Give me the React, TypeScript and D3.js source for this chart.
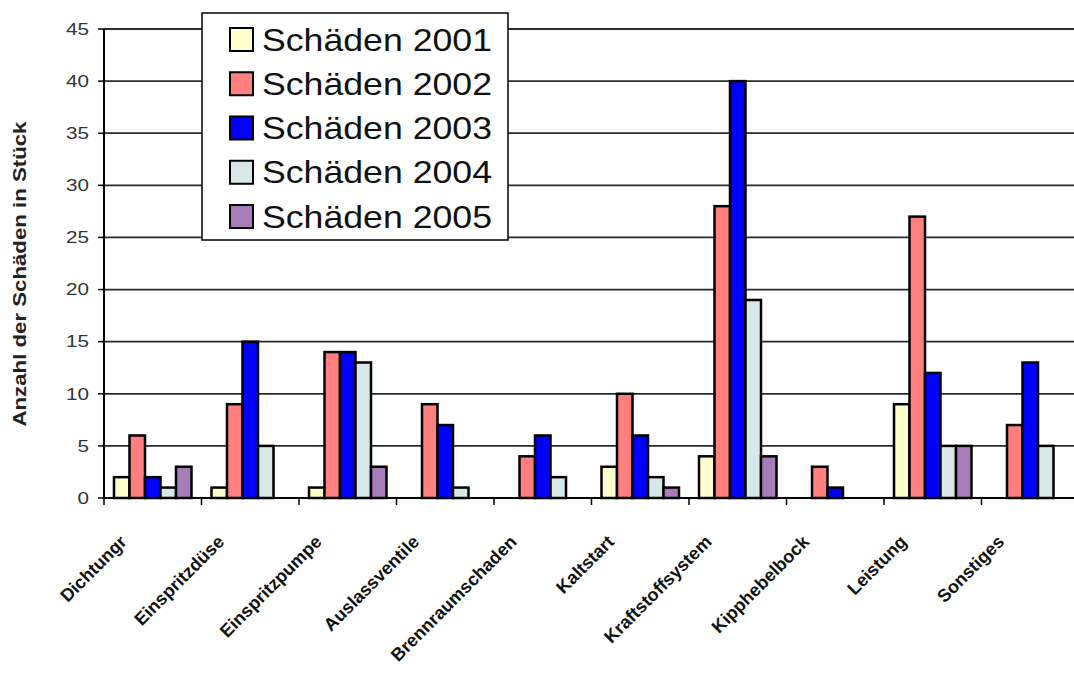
import React, { useRef, useEffect } from "react";
import * as d3 from "d3";

const categories = [
  "Dichtungr",
  "Einspritzdüse",
  "Einspritzpumpe",
  "Auslassventile",
  "Brennraumschaden",
  "Kaltstart",
  "Kraftstoffsystem",
  "Kipphebelbock",
  "Leistung",
  "Sonstiges",
];
const seriesNames = ["Schäden 2001", "Schäden 2002", "Schäden 2003", "Schäden 2004", "Schäden 2005"];
const s2001 = [2, 1, 1, 0, 0, 3, 4, 0, 9, 0];
const s2002 = [6, 9, 14, 9, 4, 10, 28, 3, 27, 7];
const s2003 = [2, 15, 14, 7, 6, 6, 40, 1, 12, 13];
const s2004 = [1, 5, 13, 1, 2, 2, 19, 0, 5, 5];
const s2005 = [3, 0, 3, 0, 0, 1, 4, 0, 5, 0];
const yTicks = [0, 5, 10, 15, 20, 25, 30, 35, 40, 45];
const colors = ["#FFFFCC", "#FF7F7F", "#0000FF", "#D8E8E8", "#A87CB8"];

const FONT = "Arial, 'Liberation Sans', sans-serif";

const App = () => {
  const ref = useRef<SVGSVGElement>(null);

  useEffect(() => {
    if (!ref.current) return;
    const svg = d3.select(ref.current);
    svg.selectAll("*").remove();

    const series = [s2001, s2002, s2003, s2004, s2005];
    const left = 104;
    const x = d3.scaleBand<string>().domain(categories).range([left, 1079]);
    const inner = d3
      .scaleBand<number>()
      .domain(d3.range(series.length))
      .range([10, x.bandwidth() - 10]);
    const y = d3.scaleLinear().domain([0, 45]).range([498, 29]);

    // gridlines
    svg
      .append("g")
      .selectAll("line")
      .data(yTicks.filter((t) => t > 0))
      .join("line")
      .attr("x1", left)
      .attr("x2", 1074)
      .attr("y1", (d) => y(d))
      .attr("y2", (d) => y(d))
      .attr("stroke", "#2a2a2a")
      .attr("stroke-width", 1.8);

    // bars
    series.forEach((vals, si) => {
      svg
        .append("g")
        .selectAll("rect")
        .data(vals.map((v, i) => ({ v, c: categories[i] })).filter((d) => d.v > 0))
        .join("rect")
        .attr("x", (d) => (x(d.c) as number) + (inner(si) as number))
        .attr("y", (d) => y(d.v))
        .attr("width", inner.bandwidth())
        .attr("height", (d) => y(0) - y(d.v))
        .attr("fill", colors[si])
        .attr("stroke", "#000")
        .attr("stroke-width", 2.5);
    });

    // y axis
    const ya = svg.append("g");
    ya.append("line")
      .attr("x1", left)
      .attr("x2", left)
      .attr("y1", y(45))
      .attr("y2", y(0))
      .attr("stroke", "#000")
      .attr("stroke-width", 2);
    ya.selectAll(".tk")
      .data(yTicks)
      .join("line")
      .attr("class", "tk")
      .attr("x1", left - 6)
      .attr("x2", left)
      .attr("y1", (d) => y(d))
      .attr("y2", (d) => y(d))
      .attr("stroke", "#000")
      .attr("stroke-width", 1.5);
    ya.selectAll("text")
      .data(yTicks)
      .join("text")
      .attr("x", 89)
      .attr("y", (d) => y(d))
      .attr("dy", "0.36em")
      .attr("text-anchor", "end")
      .attr("font-family", FONT)
      .attr("font-size", 16)
      .attr("textLength", (d) => String(d).length * 11.5)
      .attr("lengthAdjust", "spacingAndGlyphs")
      .attr("fill", "#333")
      .text((d) => d);

    // x axis
    const xa = svg.append("g");
    xa.append("line")
      .attr("x1", left)
      .attr("x2", 1074)
      .attr("y1", y(0))
      .attr("y2", y(0))
      .attr("stroke", "#000")
      .attr("stroke-width", 2);
    xa.selectAll(".tk")
      .data(categories)
      .join("line")
      .attr("class", "tk")
      .attr("x1", (d) => x(d) as number)
      .attr("x2", (d) => x(d) as number)
      .attr("y1", y(0))
      .attr("y2", y(0) + 7)
      .attr("stroke", "#000")
      .attr("stroke-width", 1.5);
    xa.selectAll("text")
      .data(categories)
      .join("text")
      .attr(
        "transform",
        (d) => `translate(${(x(d) as number) + x.bandwidth() / 2 - 25},${y(0) + 45}) rotate(-45)`
      )
      .attr("text-anchor", "end")
      .attr("font-family", FONT)
      .attr("font-weight", "bold")
      .attr("font-size", 18)
      .attr("fill", "#111")
      .text((d) => d);

    // y title
    svg
      .append("text")
      .attr("transform", `translate(26,274) rotate(-90)`)
      .attr("text-anchor", "middle")
      .attr("font-family", FONT)
      .attr("font-weight", "bold")
      .attr("font-size", 17.5)
      .attr("textLength", 305)
      .attr("lengthAdjust", "spacingAndGlyphs")
      .attr("fill", "#222")
      .text("Anzahl der Schäden in Stück");

    // legend
    const lg = svg.append("g");
    lg.append("rect")
      .attr("x", 202)
      .attr("y", 13)
      .attr("width", 306)
      .attr("height", 227)
      .attr("fill", "#fff")
      .attr("stroke", "#000")
      .attr("stroke-width", 1.5);
    const rowY = d3.scalePoint<string>().domain(seriesNames).range([39, 216]);
    seriesNames.forEach((name, i) => {
      const cy = rowY(name) as number;
      lg.append("rect")
        .attr("x", 230)
        .attr("y", cy - 11)
        .attr("width", 23)
        .attr("height", 23)
        .attr("fill", colors[i])
        .attr("stroke", "#000")
        .attr("stroke-width", 2);
      lg.append("text")
        .attr("x", 262)
        .attr("y", cy)
        .attr("dy", "0.36em")
        .attr("font-family", FONT)
        .attr("font-size", 32)
        .attr("textLength", 230)
        .attr("lengthAdjust", "spacingAndGlyphs")
        .attr("fill", "#111")
        .text(name);
    });
  }, []);

  return (
    <svg
      ref={ref}
      width={1074}
      height={674}
      style={{ position: "absolute", left: 0, top: 0, background: "#fff" }}
    />
  );
};

export default App;
